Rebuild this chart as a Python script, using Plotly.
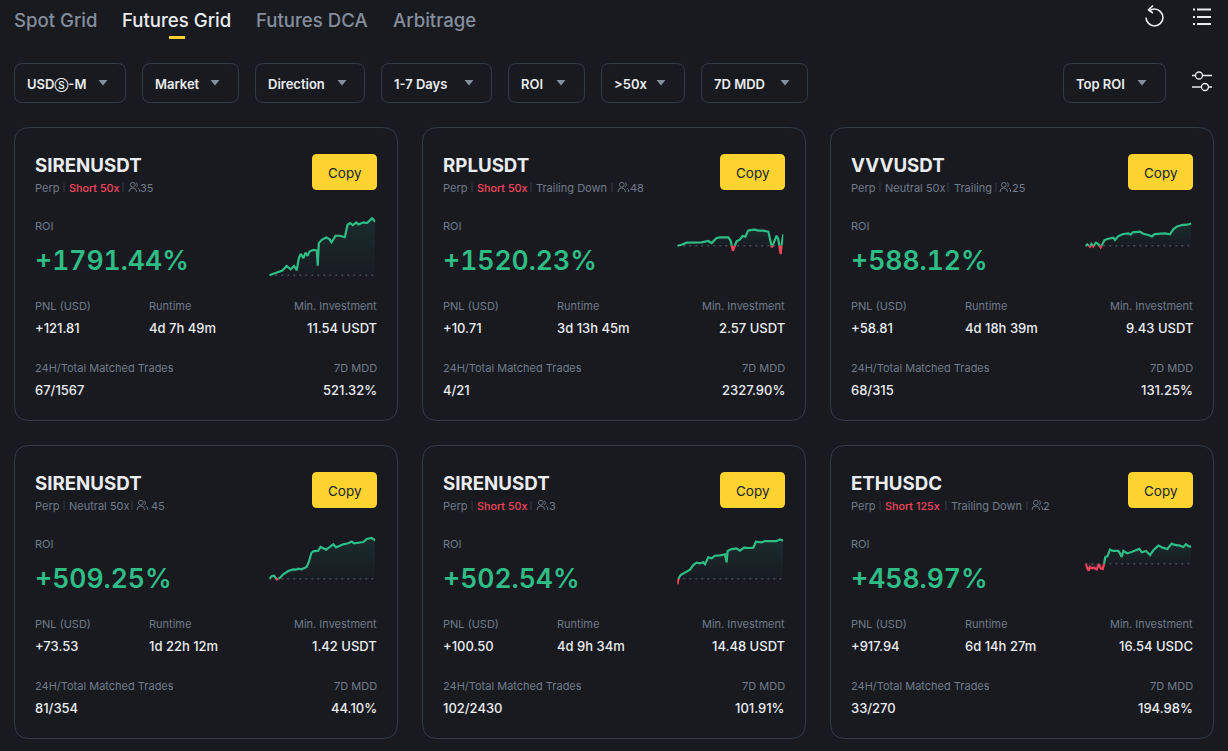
#!/usr/bin/env python3
"""Futures grid bots board: six ROI cards with sparklines"""

import plotly.graph_objects as go

# Data
symbols = ['SIRENUSDT', 'RPLUSDT', 'VVVUSDT', 'SIRENUSDT', 'SIRENUSDT', 'ETHUSDC']
sides = ['Short 50x', 'Short 50x', 'Neutral 50x', 'Neutral 50x', 'Short 50x', 'Short 125x']
extras = ['', 'Trailing Down', 'Trailing', '', '', 'Trailing Down']
copiers = ['35', '48', '25', '45', '3', '2']
roi_labels = ['+1791.44%', '+1520.23%', '+588.12%', '+509.25%', '+502.54%', '+458.97%']
pnl_labels = ['+121.81', '+10.71', '+58.81', '+73.53', '+100.50', '+917.94']
runtimes = ['4d 7h 49m', '3d 13h 45m', '4d 18h 39m', '1d 22h 12m', '4d 9h 34m', '6d 14h 27m']
min_invest = ['11.54 USDT', '2.57 USDT', '9.43 USDT', '1.42 USDT', '14.48 USDT', '16.54 USDC']
trades = ['67/1567', '4/21', '68/315', '81/354', '102/2430', '33/270']
mdd = ['521.32%', '2327.90%', '131.25%', '44.10%', '101.91%', '194.98%']

tabs = ['Spot Grid', 'Futures Grid', 'Futures DCA', 'Arbitrage']
filters = ['USD<span style="font-size:10px">Ⓢ</span>-M', 'Market', 'Direction', '1-7 Days', 'ROI', '>50x', '7D MDD', 'Top ROI']

# Sparklines: share of runtime (%) and ROI (%)
t1 = [0, 3.8, 8.5, 12.3, 16.4, 20.2, 23.3, 25.9, 27.8, 29.7, 32.2, 34.1, 36, 37.9, 41.6, 44.8, 45.7, 46.7,
      49.5, 53.6, 56.8, 58.7, 62.5, 66.3, 71.3, 73.8, 76.3, 78.9, 82, 84.2, 89, 92.1, 96.9, 100]
v1 = [0, 45, 112, 157, 314, 202, 314, 168, 571, 717, 571, 762, 650, 795, 851, 829, 325, 1075,
      1187, 1266, 1210, 1098, 1322, 1322, 1277, 1691, 1747, 1680, 1770, 1702, 1770, 1747, 1904, 1791.44]
t2 = [0, 4.1, 8.8, 15.1, 23, 29.2, 32.4, 37.1, 40.3, 48.1, 50.3, 52.5, 54.1, 56, 59.1, 61.6, 64.2, 66.7,
      70.1, 73.3, 76.4, 81.1, 85.9, 87.4, 89.3, 91.2, 93.7, 95.3, 97.5, 99.4, 100]
v2 = [0, 134, 402, 402, 447, 626, 358, 1028, 1118, 1118, 671, -671, -45, 581, 849, 1296, 1207, 2012,
      2101, 2146, 2012, 2012, 1877, 760, -224, 536, 1341, 849, -1118, 1520, 1520.23]
t3 = [0, 1.9, 4.4, 5.7, 7.5, 10.1, 12.3, 14.5, 16.4, 18.2, 21.7, 26.4, 28, 31.1, 35.8, 40.6, 42.8, 44.7,
      51.6, 54.7, 59.4, 62.9, 65.4, 70.4, 75.2, 79.9, 83, 86.2, 90.9, 95.6, 98.1, 100]
v3 = [-9, 36, -27, 45, -18, 80, 45, -45, 62, 151, 187, 214, 151, 258, 312, 330, 294, 356,
      374, 321, 285, 249, 312, 312, 330, 303, 437, 508, 552, 561, 588, 588.12]
t4 = [0, 2.5, 4.4, 6.9, 9.4, 13.2, 17.9, 22.6, 25.2, 27.4, 30.5, 35.2, 37.4, 39.6, 41.5, 46.2, 48.4, 50.9,
      53.5, 57.2, 60.4, 62.9, 66.7, 69.8, 74.5, 77.7, 79.9, 84, 88.7, 91.8, 96.5, 100]
v4 = [0, 35, 40, -9, 4, 58, 102, 124, 120, 133, 124, 155, 226, 337, 363, 372, 421, 403,
      385, 421, 456, 416, 439, 456, 470, 492, 470, 478, 487, 527, 540, 509.25]
t5 = [0, 1.3, 3.1, 7.2, 12, 15.1, 18.2, 21.4, 24.5, 26.1, 29.2, 32.4, 35.5, 40.3, 45, 46.5, 47.5, 51.2,
      55.9, 59.1, 62.9, 68.5, 71.7, 74.2, 76.7, 79.6, 82.7, 87.4, 93.7, 96.9, 100]
v5 = [-75, 4, 49, 84, 119, 181, 212, 203, 216, 190, 282, 269, 304, 309, 322, 216, 366, 392,
      401, 370, 410, 406, 410, 489, 489, 481, 498, 494, 498, 520, 502.54]
t6 = [0, 1.2, 3.1, 4.4, 6.3, 8.2, 10.7, 12.9, 14.5, 16.4, 17.6, 18.9, 20.8, 23.3, 26.4, 31.1, 32.7, 34.3,
      35.9, 39.6, 42.8, 46.9, 51, 53.2, 57.3, 61.1, 64.2, 68.9, 73, 77.4, 81.5, 84.6, 89.3, 92.5, 95, 98.1, 100]
v6 = [0, -79, -185, -88, -124, -106, -150, -18, -124, -141, -18, 177, 194, 371, 336, 336, 274, 177,
      336, 274, 300, 344, 389, 300, 336, 230, 353, 477, 424, 389, 530, 495, 477, 442, 512, 450, 458.97]
spark_t = [t1, t2, t3, t4, t5, t6]
spark_v = [v1, v2, v3, v4, v5, v6]

# Colours
BG = '#181A20'
BORDER = '#333B47'
WHITE = '#EAECEF'
GREY = '#707A8A'
TAB_GREY = '#848E9C'
GREEN = '#2EBD85'
RED = '#F6465D'
YELLOW = '#FDD32F'
FONT = 'Inter, Roboto, sans-serif'

W, H = 1228, 751
CARD_X = [14.5, 422.5, 830.5]
CARD_Y = [127.5, 445.5]
CARD_W, CARD_H = 383, 293

# Layout of the small text under each symbol, offsets from the text column
side_dx = [34, 34, 34, 34, 34, 34]
extra_dx = [0, 93, 103, 0, 0, 100]
divider_dx = [[29, 88], [29, 88, 169], [29, 97, 145], [29, 97], [29, 88], [29, 95, 176]]
icon_dx = [94, 175, 149, 102, 94, 181]
count_dx = [105, 187, 161, 116, 106, 192]

# Pixel heights of the sparklines: zero line and last point
zero_px = [275.3, 245.7, 245.7, 578.7, 578.7, 563.7]
end_px = [221.7, 234.3, 223.7, 540.3, 540.7, 546.3]

# Filter boxes: left, right, arrow centre
filter_x0 = [14, 142, 255, 381, 508, 601, 701, 1063]
filter_x1 = [126, 239, 365, 492, 585, 685, 808, 1166]
filter_arrow = [103, 215, 342, 469, 561, 661, 785, 1142]
tab_x = [14, 122, 256, 393]

ROI_SIZE = 26.5

fig = go.Figure()
shapes = []
notes = []


def round_rect(x0, y0, x1, y1, r):
    return (f'M{x0 + r},{y0} L{x1 - r},{y0} Q{x1},{y0} {x1},{y0 + r} L{x1},{y1 - r} Q{x1},{y1} {x1 - r},{y1} '
            f'L{x0 + r},{y1} Q{x0},{y1} {x0},{y1 - r} L{x0},{y0 + r} Q{x0},{y0} {x0 + r},{y0} Z')


def add_path(path, line=None, fill=None, width=1):
    shapes.append(dict(type='path', xref='x', yref='y', path=path, layer='below', fillcolor=fill or 'rgba(0,0,0,0)',
                       line=dict(color=line or 'rgba(0,0,0,0)', width=width if line else 0)))


def add_circle(cx, cy, r, line, fill=None, width=1.3):
    shapes.append(dict(type='circle', xref='x', yref='y', x0=cx - r, x1=cx + r, y0=cy - r, y1=cy + r, layer='below',
                       fillcolor=fill or 'rgba(0,0,0,0)', line=dict(color=line, width=width)))


def add_text(x, y, text, size, color, anchor='left', weight=400):
    # annotations carry a 1px inner margin, take it back here
    nudge = {'left': -1, 'right': 1, 'center': 0}[anchor]
    notes.append(dict(xref='x', yref='y', x=x + nudge, y=y, text=text, showarrow=False, xanchor=anchor,
                      yanchor='middle', align=anchor, borderpad=0,
                      font=dict(family=FONT, size=size, color=color, weight=weight)))


def split_zero(t, v):
    # break a series at zero so each side gets its own colour
    xs, ps, ns = [], [], []
    for i in range(len(t)):
        if i and v[i - 1] * v[i] < 0:
            xs.append(t[i - 1] + (t[i] - t[i - 1]) * v[i - 1] / (v[i - 1] - v[i]))
            ps.append(0)
            ns.append(0)
        xs.append(t[i])
        ps.append(v[i] if v[i] >= 0 else None)
        ns.append(v[i] if v[i] <= 0 else None)
    return xs, ps, ns


# Full page axis so that everything else can be placed in pixels
fig.add_trace(go.Scatter(x=[0, W], y=[H, 0], mode='none', showlegend=False, hoverinfo='skip'))

# Tabs
for i, name in enumerate(tabs):
    add_text(tab_x[i], 20, name, 18.6, WHITE if i == 1 else TAB_GREY, weight=500)
add_path(round_rect(169, 36, 185, 39, 0.5), fill=YELLOW)

# Filters
for i, name in enumerate(filters):
    add_path(round_rect(filter_x0[i] + 0.5, 63.5, filter_x1[i] - 0.5, 102.5, 8), line=BORDER)
    add_text(filter_x0[i] + 13, 84, name, 13, WHITE, weight=600)
    a = filter_arrow[i]
    add_path(f'M{a - 4.5},80 L{a + 4.5},80 L{a},85.5 Z', fill=TAB_GREY)

# Top right icons
add_path('M1149,11 C1151,9.6 1152.5,9 1154.5,9 C1159,9 1163,13 1163,17.5 C1163,22 1159,26 1154.5,26 '
         'C1150,26 1146,22 1146,17.5', line=WHITE, width=1.6)
add_path('M1153,5.5 L1148.5,10 L1153,13', line=WHITE, width=1.6)
for ly in [9.5, 17, 24]:
    add_path(f'M1193,{ly} L1195,{ly}', line=WHITE, width=2)
    add_path(f'M1197,{ly} L1211,{ly}', line=WHITE, width=2)
add_path('M1192,75.5 L1195,75.5 M1203,75.5 L1212,75.5', line=WHITE, width=1.5)
add_circle(1199, 75.5, 3.5, WHITE)
add_path('M1192,87 L1201,87 M1209,87 L1212,87', line=WHITE, width=1.5)
add_circle(1205, 87, 3.5, WHITE)

# Cards
for i in range(6):
    L = CARD_X[i % 3]
    T = CARD_Y[i // 3]
    R = L + CARD_W
    tx = L + 20.5
    add_path(round_rect(L, T, R, T + CARD_H, 15), line=BORDER)
    add_text(tx, T + 37.5, symbols[i], 18.7, WHITE, weight=700)

    # tags line
    ty = T + 60.5
    add_text(tx, ty, 'Perp', 11, GREY)
    is_short = sides[i].startswith('Short')
    add_text(tx + side_dx[i], ty, sides[i], 10.8 if is_short else 11, RED if is_short else GREY,
             weight=500 if is_short else 400)
    if extras[i]:
        add_text(tx + extra_dx[i], ty, extras[i], 11, GREY)
    for dx in divider_dx[i]:
        add_path(f'M{tx + dx},{ty - 5} L{tx + dx},{ty + 4}', line=BORDER, width=1)
    ix = tx + icon_dx[i]
    add_circle(ix + 3.8, ty - 3.2, 2.4, GREY, width=0.9)
    add_path(f'M{ix},{ty + 4} Q{ix},{ty} {ix + 3.8},{ty} Q{ix + 7.6},{ty} {ix + 7.6},{ty + 4} '
             f'M{ix + 7.5},{ty - 5.5} Q{ix + 9.5},{ty - 3} {ix + 7.5},{ty - 0.8} '
             f'M{ix + 9},{ty} Q{ix + 10.8},{ty + 1} {ix + 10.8},{ty + 4}', line=GREY, width=0.9)
    add_text(tx + count_dx[i], ty, copiers[i], 11, GREY)

    # copy button
    add_path(round_rect(R - 85.5, T + 26.5, R - 20.5, T + 62.5, 5), fill=YELLOW)
    add_text(R - 53, T + 45.5, 'Copy', 13.5, '#202630', anchor='center')

    add_text(tx, T + 98.5, 'ROI', 11, GREY)
    add_text(tx, T + 132.5, roi_labels[i], ROI_SIZE, GREEN, weight=600)

    add_text(tx, T + 178.5, 'PNL (USD)', 11, GREY)
    add_text(tx + 114, T + 178.5, 'Runtime', 11, GREY)
    add_text(R - 20.5, T + 178.5, 'Min. Investment', 11, GREY, anchor='right')
    add_text(tx, T + 200.5, pnl_labels[i], 13, WHITE, weight=500)
    add_text(tx + 114, T + 200.5, runtimes[i], 13, WHITE, weight=500)
    add_text(R - 20.5, T + 200.5, min_invest[i], 13, WHITE, anchor='right', weight=500)

    add_text(tx, T + 240.5, '24H/Total Matched Trades', 11, GREY)
    add_text(R - 20.5, T + 240.5, '7D MDD', 11, GREY, anchor='right')
    add_text(tx, T + 262.5, trades[i], 13, WHITE, weight=500)
    add_text(R - 20.5, T + 262.5, mdd[i], 13, WHITE, anchor='right', weight=500)

    # sparkline on its own little axes
    n = i + 2
    sx0, sx1 = L + 254.8, L + 360.8
    top, bot = T + 75, T + 175
    per_px = spark_v[i][-1] / (zero_px[i] - end_px[i])
    fig.update_layout(**{
        f'xaxis{n}': dict(domain=[sx0 / W, sx1 / W], range=[0, 100], visible=False, anchor=f'y{n}', fixedrange=True),
        f'yaxis{n}': dict(domain=[1 - bot / H, 1 - top / H], visible=False, anchor=f'x{n}', fixedrange=True,
                          range=[(zero_px[i] - bot) * per_px, (zero_px[i] - top) * per_px]),
    })
    xs, ps, ns = split_zero(spark_t[i], spark_v[i])
    fig.add_trace(go.Scatter(x=[0, 100], y=[0, 0], mode='lines', line=dict(color='#474D57', width=1.4, dash='2px,4px'),
                             xaxis=f'x{n}', yaxis=f'y{n}', showlegend=False, hoverinfo='skip'))
    fig.add_trace(go.Scatter(x=xs, y=ps, mode='lines', line=dict(color=GREEN, width=2.2), fill='tozeroy',
                             fillgradient=dict(type='vertical',
                                               colorscale=[[0, 'rgba(46,189,133,0.01)'], [1, 'rgba(46,189,133,0.11)']]),
                             xaxis=f'x{n}', yaxis=f'y{n}', showlegend=False, hoverinfo='skip'))
    fig.add_trace(go.Scatter(x=xs, y=ns, mode='lines', line=dict(color=RED, width=2.2), fill='tozeroy',
                             fillcolor='rgba(246,70,93,0.12)',
                             xaxis=f'x{n}', yaxis=f'y{n}', showlegend=False, hoverinfo='skip'))

fig.update_layout(
    width=W,
    height=H,
    margin=dict(l=0, r=0, t=0, b=0),
    paper_bgcolor=BG,
    plot_bgcolor=BG,
    showlegend=False,
    hovermode=False,
    xaxis=dict(domain=[0, 1], range=[0, W], visible=False, fixedrange=True),
    yaxis=dict(domain=[0, 1], range=[H, 0], visible=False, fixedrange=True),
    shapes=shapes,
    annotations=notes,
)

# page margin off, and even width digits on the big ROI numbers
page_js = """
document.body.style.margin = '0';
document.body.style.background = '#181A20';
var st = document.createElement('style');
st.textContent = 'text[style*="font-size: %spx"]{font-feature-settings:"tnum" 1;}';
document.head.appendChild(st);
""" % ROI_SIZE

fig.write_html('out.html', config=dict(displayModeBar=False), post_script=page_js)
